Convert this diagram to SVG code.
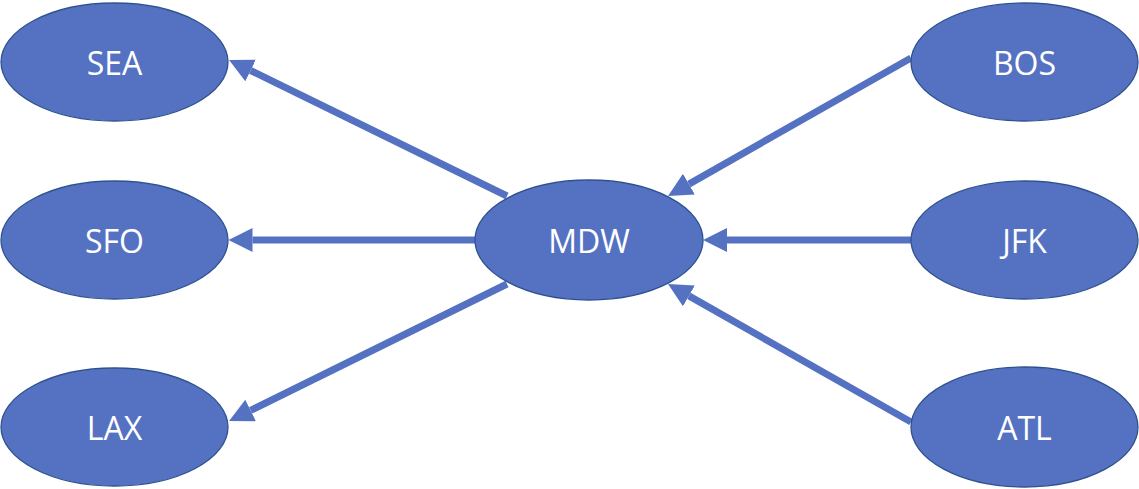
<svg xmlns="http://www.w3.org/2000/svg" width="1139" height="489" viewBox="0 0 1139 489">
<style>
.node ellipse{fill:#5572C2;stroke:#2F528F;stroke-width:1.3}
.node text{font-family:"Open Sans","Noto Sans","Liberation Sans",sans-serif;font-size:32px;fill:#FFFFFF;text-anchor:middle}
.edge{stroke:#5572C2;stroke-width:7;fill:none;marker-end:url(#arr)}
</style>
<defs>
<marker id="arr" markerUnits="userSpaceOnUse" markerWidth="25" markerHeight="25" refX="0" refY="12" orient="auto">
<path d="M0,0 L24,12 L0,24 z" fill="#5572C2"/>
</marker>
</defs>
<rect width="1139" height="489" fill="#FFFFFF"/>
<g id="connectors">
<line class="edge" x1="507" y1="196" x2="250.6" y2="70.5"/>
<line class="edge" x1="475" y1="240" x2="252.5" y2="240"/>
<line class="edge" x1="507" y1="284" x2="250.6" y2="410.4"/>
<line class="edge" x1="911" y1="58" x2="688.9" y2="184.1"/>
<line class="edge" x1="911" y1="240" x2="727" y2="240"/>
<line class="edge" x1="911" y1="422" x2="688.9" y2="295.9"/>
</g>
<g id="SEA" class="node"><ellipse cx="114.5" cy="62" rx="113.5" ry="59"/><text x="114.5" y="75">SEA</text></g>
<g id="SFO" class="node"><ellipse cx="114.5" cy="240" rx="113.5" ry="59"/><text x="114.5" y="253">SFO</text></g>
<g id="LAX" class="node"><ellipse cx="114.5" cy="427" rx="113.5" ry="59"/><text x="114.5" y="440">LAX</text></g>
<g id="MDW" class="node"><ellipse cx="589" cy="240" rx="114" ry="60"/><text x="589" y="253">MDW</text></g>
<g id="BOS" class="node"><ellipse cx="1024.5" cy="62" rx="113.5" ry="59"/><text x="1024.5" y="75">BOS</text></g>
<g id="JFK" class="node"><ellipse cx="1024.5" cy="240" rx="113.5" ry="59"/><text x="1024.5" y="253">JFK</text></g>
<g id="ATL" class="node"><ellipse cx="1024.5" cy="427" rx="113.5" ry="60"/><text x="1024.5" y="440">ATL</text></g>
</svg>
